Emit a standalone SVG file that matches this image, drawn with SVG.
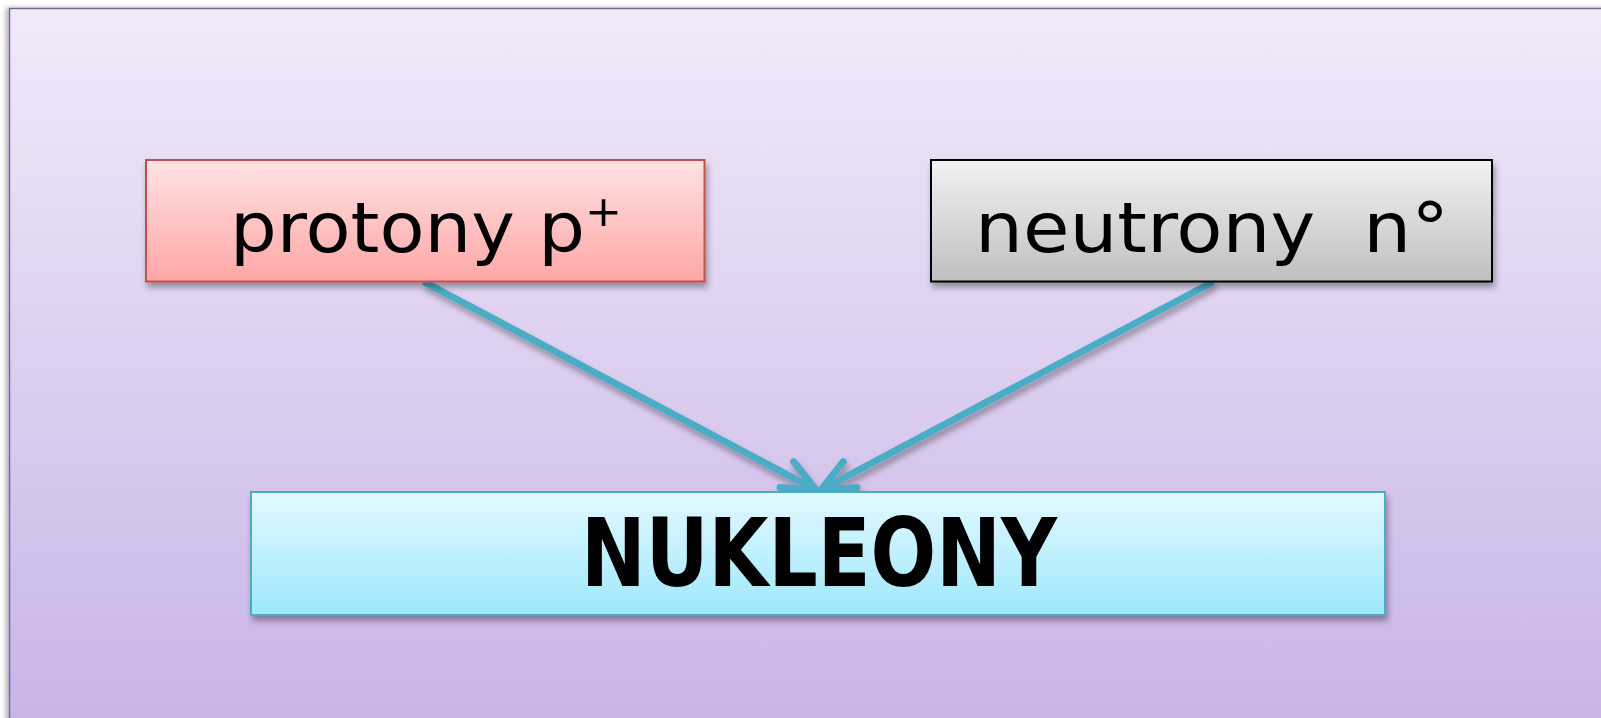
<svg xmlns="http://www.w3.org/2000/svg" width="1601" height="718" viewBox="0 0 1601 718">
  <style>
    .label { font-family: "Comic Sans MS", "DejaVu Sans", "Liberation Sans", sans-serif; fill: #000; text-anchor: middle; }
    .small { font-size: 70px; }
    .big { font-size: 94px; font-weight: bold; }
    .conn { fill: none; stroke: #4bacc6; stroke-width: 7; stroke-linecap: round; }
  </style>
  <defs>
    <linearGradient id="gBg" x1="0" y1="0" x2="0" y2="1">
      <stop offset="0" stop-color="#f0eaf8"/>
      <stop offset="1" stop-color="#c8b3e7"/>
    </linearGradient>
    <linearGradient id="gRed" x1="0" y1="0" x2="0" y2="1">
      <stop offset="0" stop-color="#ffe3e3"/>
      <stop offset="1" stop-color="#ffa6a6"/>
    </linearGradient>
    <linearGradient id="gGrey" x1="0" y1="0" x2="0" y2="1">
      <stop offset="0" stop-color="#f2f2f2"/>
      <stop offset="1" stop-color="#bfbfbf"/>
    </linearGradient>
    <linearGradient id="gCyan" x1="0" y1="0" x2="0" y2="1">
      <stop offset="0" stop-color="#e3f9ff"/>
      <stop offset="1" stop-color="#9de8fc"/>
    </linearGradient>
    <filter id="shadow" x="-10%" y="-20%" width="130%" height="150%">
      <feGaussianBlur in="SourceAlpha" stdDeviation="3"/>
      <feOffset dx="2" dy="5" result="b"/>
      <feComponentTransfer><feFuncA type="linear" slope="0.35"/></feComponentTransfer>
      <feMerge><feMergeNode/><feMergeNode in="SourceGraphic"/></feMerge>
    </filter>
    <filter id="bgShadow" x="-2%" y="-2%" width="104%" height="104%">
      <feGaussianBlur in="SourceAlpha" stdDeviation="2.5"/>
      <feOffset dx="-3" dy="0"/>
      <feComponentTransfer><feFuncA type="linear" slope="0.3"/></feComponentTransfer>
      <feMerge><feMergeNode/><feMergeNode in="SourceGraphic"/></feMerge>
    </filter>
    <marker id="arrow" markerUnits="userSpaceOnUse" markerWidth="80" markerHeight="80" refX="0" refY="0" orient="auto" overflow="visible" viewBox="-40 -40 80 80">
      <path d="M-33,-14.6 L0,0 L-33,14.6" fill="none" stroke="#4bacc6" stroke-width="7" stroke-linecap="round" stroke-linejoin="round"/>
    </marker>
  </defs>

  <rect x="0" y="0" width="1601" height="718" fill="#ffffff"/>

  <!-- slide background panel -->
  <g id="background" filter="url(#bgShadow)">
    <rect x="9.5" y="8.5" width="1600" height="720" fill="url(#gBg)" stroke="#8064a2" stroke-width="1.5"/>
  </g>

  <!-- connectors -->
  <g id="connectors" filter="url(#shadow)">
    <line class="conn" x1="426" y1="283" x2="816" y2="490" marker-end="url(#arrow)"/>
    <line class="conn" x1="1211" y1="283" x2="821" y2="490" marker-end="url(#arrow)"/>
  </g>

  <g id="node-protony" filter="url(#shadow)">
    <rect x="146" y="160" width="558.5" height="121.5" fill="url(#gRed)" stroke="#c0504d" stroke-width="2"/>
    <text class="label small" x="426" y="252" textLength="392" lengthAdjust="spacingAndGlyphs">protony p<tspan font-size="42" dy="-26">+</tspan></text>
  </g>

  <g id="node-neutrony" filter="url(#shadow)">
    <rect x="931" y="160" width="561" height="121.5" fill="url(#gGrey)" stroke="#000000" stroke-width="2"/>
    <text class="label small" x="1212" y="252" textLength="474" lengthAdjust="spacingAndGlyphs" xml:space="preserve">neutrony  n°</text>
  </g>

  <g id="node-nukleony" filter="url(#shadow)">
    <rect x="251" y="492" width="1134" height="123" fill="url(#gCyan)" stroke="#4bacc6" stroke-width="2"/>
    <text class="label big" x="819" y="586" textLength="476" lengthAdjust="spacingAndGlyphs">NUKLEONY</text>
  </g>
</svg>
